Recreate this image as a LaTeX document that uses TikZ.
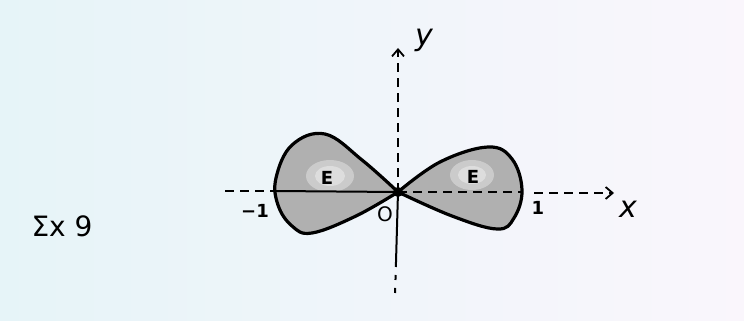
\documentclass[tikz,border=0pt]{standalone}
\usepackage{fontspec}
\setmainfont{DejaVu Sans}
\usetikzlibrary{arrows.meta}
\begin{document}
\begin{tikzpicture}[x=1pt,y=-1pt,
  lobe/.style={draw=black,line width=3.2pt,fill=gray!62,line join=round},
  axisline/.style={line width=2pt,black},
  dashedaxis/.style={axisline,dash pattern=on 9pt off 6pt},
  tip/.style={-{Straight Barb[length=7pt,width=12pt,line width=1.8pt]}},
  lbl/.style={font=\fontsize{18}{20}\selectfont\bfseries,text=black,inner sep=0pt}]
% background
\shade[left color={rgb,255:red,230;green,244;blue,248},right color={rgb,255:red,250;green,246;blue,252}]
  (0,0) rectangle (744,321);
\useasboundingbox (0,0) rectangle (744,321);
% coordinates
\coordinate (O) at (398,192);
\coordinate (xl) at (225,191);
\coordinate (lx) at (275,191);
\coordinate (rx) at (522,192);
\coordinate (xa) at (534,193);
\coordinate (xr) at (614,193);
\coordinate (yt) at (398,48);
\coordinate (yb) at (395,296);
\coordinate (ym) at (396,262);
% lobes
\path[lobe] plot[smooth,tension=0.65] coordinates {(398,192) (362,160) (325,134) (292,145) (276,178) (278,205) (292,226) (312,233) (356,216) (398,192)};
\path[lobe] plot[smooth,tension=0.65] coordinates {(398,192) (440,162) (488,147) (512,159) (522,190) (514,218) (497,229) (452,216) (398,192)};
% lighter patches
\fill[white,opacity=0.35] (330,176) ellipse (24pt and 16pt);
\fill[white,opacity=0.35] (330,176) ellipse (15pt and 10pt);
\fill[white,opacity=0.35] (472,175) ellipse (22pt and 15pt);
\fill[white,opacity=0.35] (472,175) ellipse (14pt and 9pt);
% x axis
\draw[dashedaxis] (xl) -- (lx);
\draw[axisline] (lx) -- (O);
\draw[dashedaxis] (O) -- (rx);
\draw[dashedaxis,tip] (xa) -- (xr);
% y axis
\draw[dashedaxis,tip] (O) -- (yt);
\draw[axisline] (O) -- (ym);
\draw[dashedaxis,dash pattern=on 5pt off 8pt] (ym) -- (yb);
\fill (O) circle (5pt);
% labels
\node[lbl] (E1) at (327,178) {E};
\node[lbl] (E2) at (473,177) {E};
\node[lbl] (m1) at (255,211) {−1};
\node[lbl] (p1) at (538,208) {1};
\node[lbl,font=\fontsize{20}{22}\selectfont] (o) at (385,214) {O};
\node[lbl,font=\fontsize{30}{32}\selectfont\itshape] (xlab) at (628,209) {x};
\node[lbl,font=\fontsize{30}{32}\selectfont\itshape] (ylab) at (424,40) {y};
\node[lbl,font=\fontsize{28}{30}\selectfont] (ex) at (62,226) {Σx 9};
\end{tikzpicture}
\end{document}
